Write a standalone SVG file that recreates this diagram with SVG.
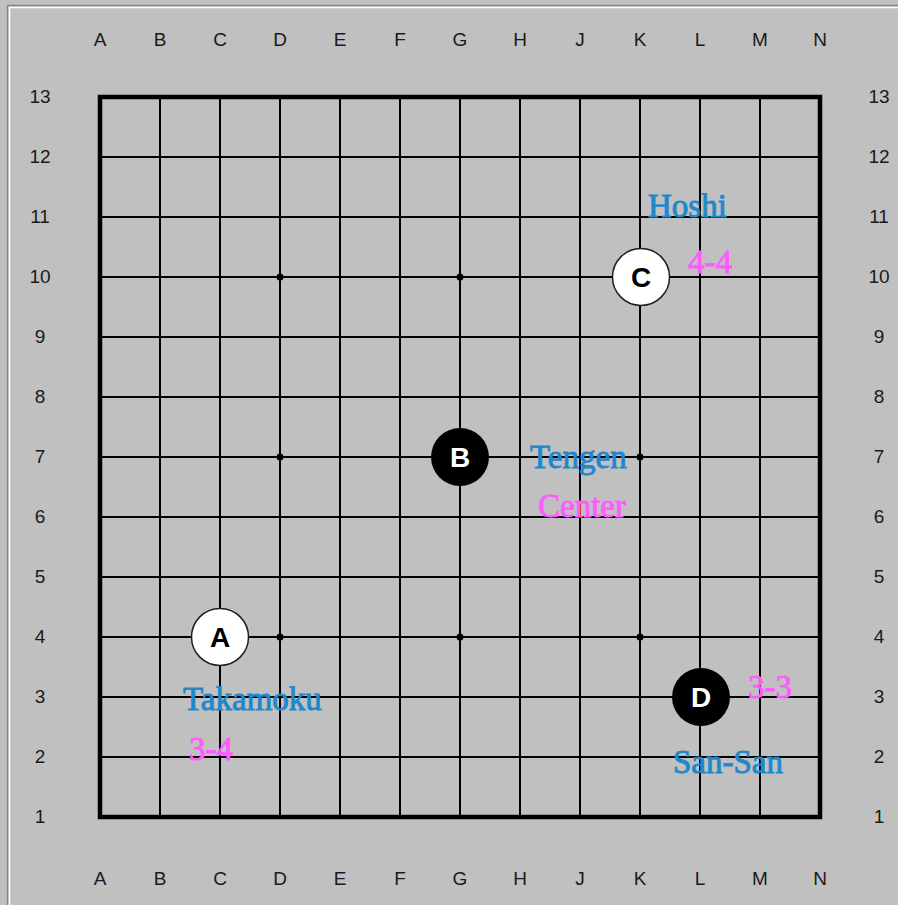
<svg xmlns="http://www.w3.org/2000/svg" width="898" height="905" viewBox="0 0 898 905">
<style>
.grid line{stroke:#000;stroke-width:2}
.coord{font-family:"Liberation Sans",Arial,sans-serif;font-size:19px;fill:#1a1a1a;text-anchor:middle}
.lbl{font-family:"Liberation Serif","Times New Roman",serif;font-size:33px;stroke-width:0.9}
.blue{fill:#1e88cc;stroke:#1e88cc}
.mag{fill:#ff5cff;stroke:#ff5cff}
.sw{fill:#fff;stroke:#1c1c2c;stroke-width:1.5}
.sb{fill:#000}
.st{font-family:"Liberation Sans",Arial,sans-serif;font-size:28px;font-weight:bold;text-anchor:middle;dominant-baseline:central}
.hoshi{fill:#000}
</style>
<rect x="0" y="0" width="898" height="905" fill="#c0c0c0"/>
<path d="M7.5 905 V5.5 H898" fill="none" stroke="#888" stroke-width="1.5"/>
<path d="M9.5 905 V7.5 H898" fill="none" stroke="#fff" stroke-width="1.5"/>
<g id="board">
<g class="grid">
<line x1="160" y1="97" x2="160" y2="817"/>
<line x1="220" y1="97" x2="220" y2="817"/>
<line x1="280" y1="97" x2="280" y2="817"/>
<line x1="340" y1="97" x2="340" y2="817"/>
<line x1="400" y1="97" x2="400" y2="817"/>
<line x1="460" y1="97" x2="460" y2="817"/>
<line x1="520" y1="97" x2="520" y2="817"/>
<line x1="580" y1="97" x2="580" y2="817"/>
<line x1="640" y1="97" x2="640" y2="817"/>
<line x1="700" y1="97" x2="700" y2="817"/>
<line x1="760" y1="97" x2="760" y2="817"/>
<line x1="100" y1="157" x2="820" y2="157"/>
<line x1="100" y1="217" x2="820" y2="217"/>
<line x1="100" y1="277" x2="820" y2="277"/>
<line x1="100" y1="337" x2="820" y2="337"/>
<line x1="100" y1="397" x2="820" y2="397"/>
<line x1="100" y1="457" x2="820" y2="457"/>
<line x1="100" y1="517" x2="820" y2="517"/>
<line x1="100" y1="577" x2="820" y2="577"/>
<line x1="100" y1="637" x2="820" y2="637"/>
<line x1="100" y1="697" x2="820" y2="697"/>
<line x1="100" y1="757" x2="820" y2="757"/>
</g>
<rect x="100" y="97" width="720" height="720" fill="none" stroke="#000" stroke-width="4.5"/>
<g class="hoshi">
<circle cx="280" cy="277" r="3.5"/>
<circle cx="460" cy="277" r="3.5"/>
<circle cx="280" cy="457" r="3.5"/>
<circle cx="640" cy="457" r="3.5"/>
<circle cx="280" cy="637" r="3.5"/>
<circle cx="460" cy="637" r="3.5"/>
<circle cx="640" cy="637" r="3.5"/>
</g>
</g>
<g id="coords" class="coord">
<text x="100" y="46">A</text><text x="160" y="46">B</text><text x="220" y="46">C</text><text x="280" y="46">D</text><text x="340" y="46">E</text><text x="400" y="46">F</text><text x="460" y="46">G</text><text x="520" y="46">H</text><text x="580" y="46">J</text><text x="640" y="46">K</text><text x="700" y="46">L</text><text x="760" y="46">M</text><text x="820" y="46">N</text>
<text x="100" y="885">A</text><text x="160" y="885">B</text><text x="220" y="885">C</text><text x="280" y="885">D</text><text x="340" y="885">E</text><text x="400" y="885">F</text><text x="460" y="885">G</text><text x="520" y="885">H</text><text x="580" y="885">J</text><text x="640" y="885">K</text><text x="700" y="885">L</text><text x="760" y="885">M</text><text x="820" y="885">N</text>
<text x="40" y="103">13</text><text x="40" y="163">12</text><text x="40" y="223">11</text><text x="40" y="283">10</text><text x="40" y="343">9</text><text x="40" y="403">8</text><text x="40" y="463">7</text><text x="40" y="523">6</text><text x="40" y="583">5</text><text x="40" y="643">4</text><text x="40" y="703">3</text><text x="40" y="763">2</text><text x="40" y="823">1</text>
<text x="879" y="103">13</text><text x="879" y="163">12</text><text x="879" y="223">11</text><text x="879" y="283">10</text><text x="879" y="343">9</text><text x="879" y="403">8</text><text x="879" y="463">7</text><text x="879" y="523">6</text><text x="879" y="583">5</text><text x="879" y="643">4</text><text x="879" y="703">3</text><text x="879" y="763">2</text><text x="879" y="823">1</text>
</g>
<g id="stoneA"><circle class="sw" cx="220" cy="637" r="28.5"/><text class="st" x="220" y="637" fill="#000">A</text></g>
<g id="stoneB"><circle class="sb" cx="460" cy="457" r="29"/><text class="st" x="460" y="457" fill="#fff">B</text></g>
<g id="stoneC"><circle class="sw" cx="641" cy="277" r="28.5"/><text class="st" x="641" y="277" fill="#000">C</text></g>
<g id="stoneD"><circle class="sb" cx="701" cy="697" r="29"/><text class="st" x="701" y="697" fill="#fff">D</text></g>
<g id="labels" class="lbl">
<text class="blue" x="648" y="217">Hoshi</text>
<text class="mag" x="688" y="273">4-4</text>
<text class="blue" x="530" y="468">Tengen</text>
<text class="mag" x="538" y="517">Center</text>
<text class="blue" x="183" y="710">Takamoku</text>
<text class="mag" x="189" y="760">3-4</text>
<text class="mag" x="748" y="698">3-3</text>
<text class="blue" x="673" y="773">San-San</text>
</g>
</svg>
